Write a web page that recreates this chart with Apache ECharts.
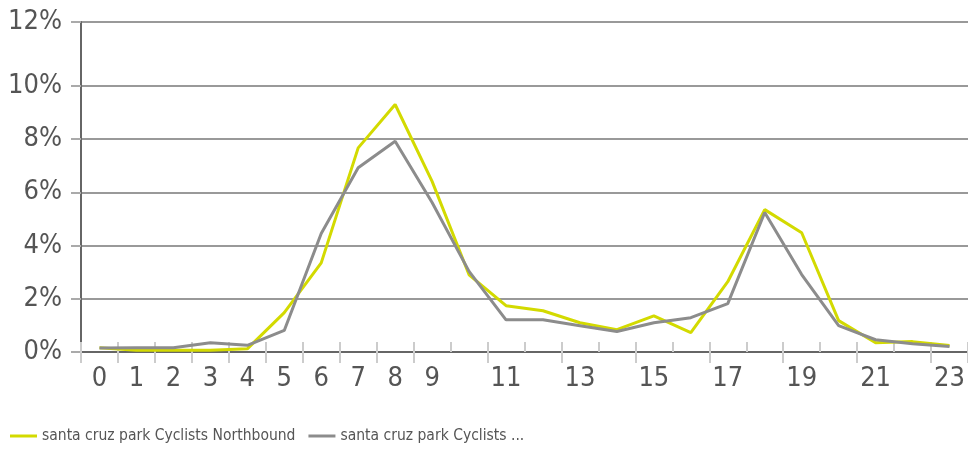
<!DOCTYPE html>
<html>
<head>
<meta charset="utf-8">
<script src="https://cdn.jsdelivr.net/npm/echarts@6/dist/echarts.min.js"></script>
<style>
  html, body { margin: 0; padding: 0; background: #fff; }
  #chartHours { width: 968px; height: 450px; }
</style>
</head>
<body>
<div id="chartHours"></div>
<script>
// 小时
var hours = ['0', '1', '2', '3', '4', '5', '6', '7', '8', '9', '10', '11',
  '12', '13', '14', '15', '16', '17', '18', '19', '20', '21', '22', '23'];
// 北向 (%)
var northbound = [0.16, 0.07, 0.07, 0.07, 0.12, 1.48, 3.35, 7.67, 9.3, 6.41, 2.9, 1.74,
  1.55, 1.1, 0.84, 1.36, 0.73, 2.64, 5.35, 4.48, 1.18, 0.35, 0.39, 0.24];
// 另一方向 (%)
var otherBound = [0.15, 0.16, 0.16, 0.35, 0.25, 0.81, 4.45, 6.92, 7.92, 5.62, 3.03, 1.21,
  1.21, 0.99, 0.77, 1.1, 1.29, 1.82, 5.24, 2.91, 0.99, 0.46, 0.31, 0.21];
// y 轴刻度, 顶部那条线标成 12%
var yTickValues = [0, 2, 4, 6, 8, 10, 12.4];
var yTickLabels = ['0%', '2%', '4%', '6%', '8%', '10%', '12%'];

var names = ['santa cruz park Cyclists Northbound', 'santa cruz park Cyclists Southbound'];
var legendLabels = ['santa cruz park Cyclists Northbound', 'santa cruz park Cyclists ...'];
var font = "'Liberation Sans Narrow', 'DejaVu Sans Condensed', 'Liberation Sans', sans-serif";

var chartHours = echarts.init(document.getElementById('chartHours'));
var option = {
  animation: false,
  textStyle: {
    fontFamily: font
  },
  grid: {
    left: 81,
    right: 0,
    top: 22,
    bottom: 98
  },
  legend: {
    left: 10,
    top: 428,
    padding: 0,
    icon: 'rect',
    itemWidth: 27,
    itemHeight: 3,
    itemGap: 13,
    textStyle: {
      color: '#555',
      fontSize: 15.5,
      fontFamily: font
    },
    formatter: function (name) {
      return legendLabels[names.indexOf(name)];
    },
    data: names
  },
  xAxis: [
    {
      type: 'category',
      data: hours,
      boundaryGap: true,
      axisLine: {
        lineStyle: { color: '#666', width: 2 }
      },
      axisTick: {
        show: true,
        length: 11,
        lineStyle: { color: '#ccc', width: 2 }
      },
      axisLabel: {
        color: '#555',
        fontSize: 27,
        margin: 13,
        fontFamily: font,
        interval: function (i) { return i < 10 || i % 2 === 1; }
      }
    },
    {
      // 轴线上方的短刻度
      type: 'category',
      data: hours,
      position: 'bottom',
      boundaryGap: true,
      axisLine: { show: false },
      axisTick: {
        show: true,
        inside: true,
        length: 10,
        lineStyle: { color: '#ccc', width: 2 }
      },
      axisLabel: { show: false },
      splitLine: { show: false }
    }
  ],
  yAxis: {
    type: 'value',
    min: 0,
    max: 12.4,
    axisLine: {
      show: true,
      lineStyle: { color: '#666', width: 2 }
    },
    axisTick: {
      show: true,
      length: 10,
      customValues: yTickValues,
      lineStyle: { color: '#aaa', width: 2 }
    },
    axisLabel: {
      color: '#555',
      fontSize: 27,
      margin: 19,
      fontFamily: font,
      customValues: yTickValues,
      formatter: function (v) {
        return yTickLabels[yTickValues.indexOf(v)];
      }
    },
    splitLine: {
      lineStyle: { color: '#999', width: 2 }
    }
  },
  series: [
    {
      name: names[0],
      type: 'line',
      symbol: 'none',
      itemStyle: { color: '#d3da00' },
      lineStyle: { color: '#d3da00', width: 3 },
      data: northbound
    },
    {
      name: names[1],
      type: 'line',
      symbol: 'none',
      itemStyle: { color: '#8c8c8c' },
      lineStyle: { color: '#8c8c8c', width: 3 },
      data: otherBound
    }
  ]
};
chartHours.setOption(option);
</script>
</body>
</html>
